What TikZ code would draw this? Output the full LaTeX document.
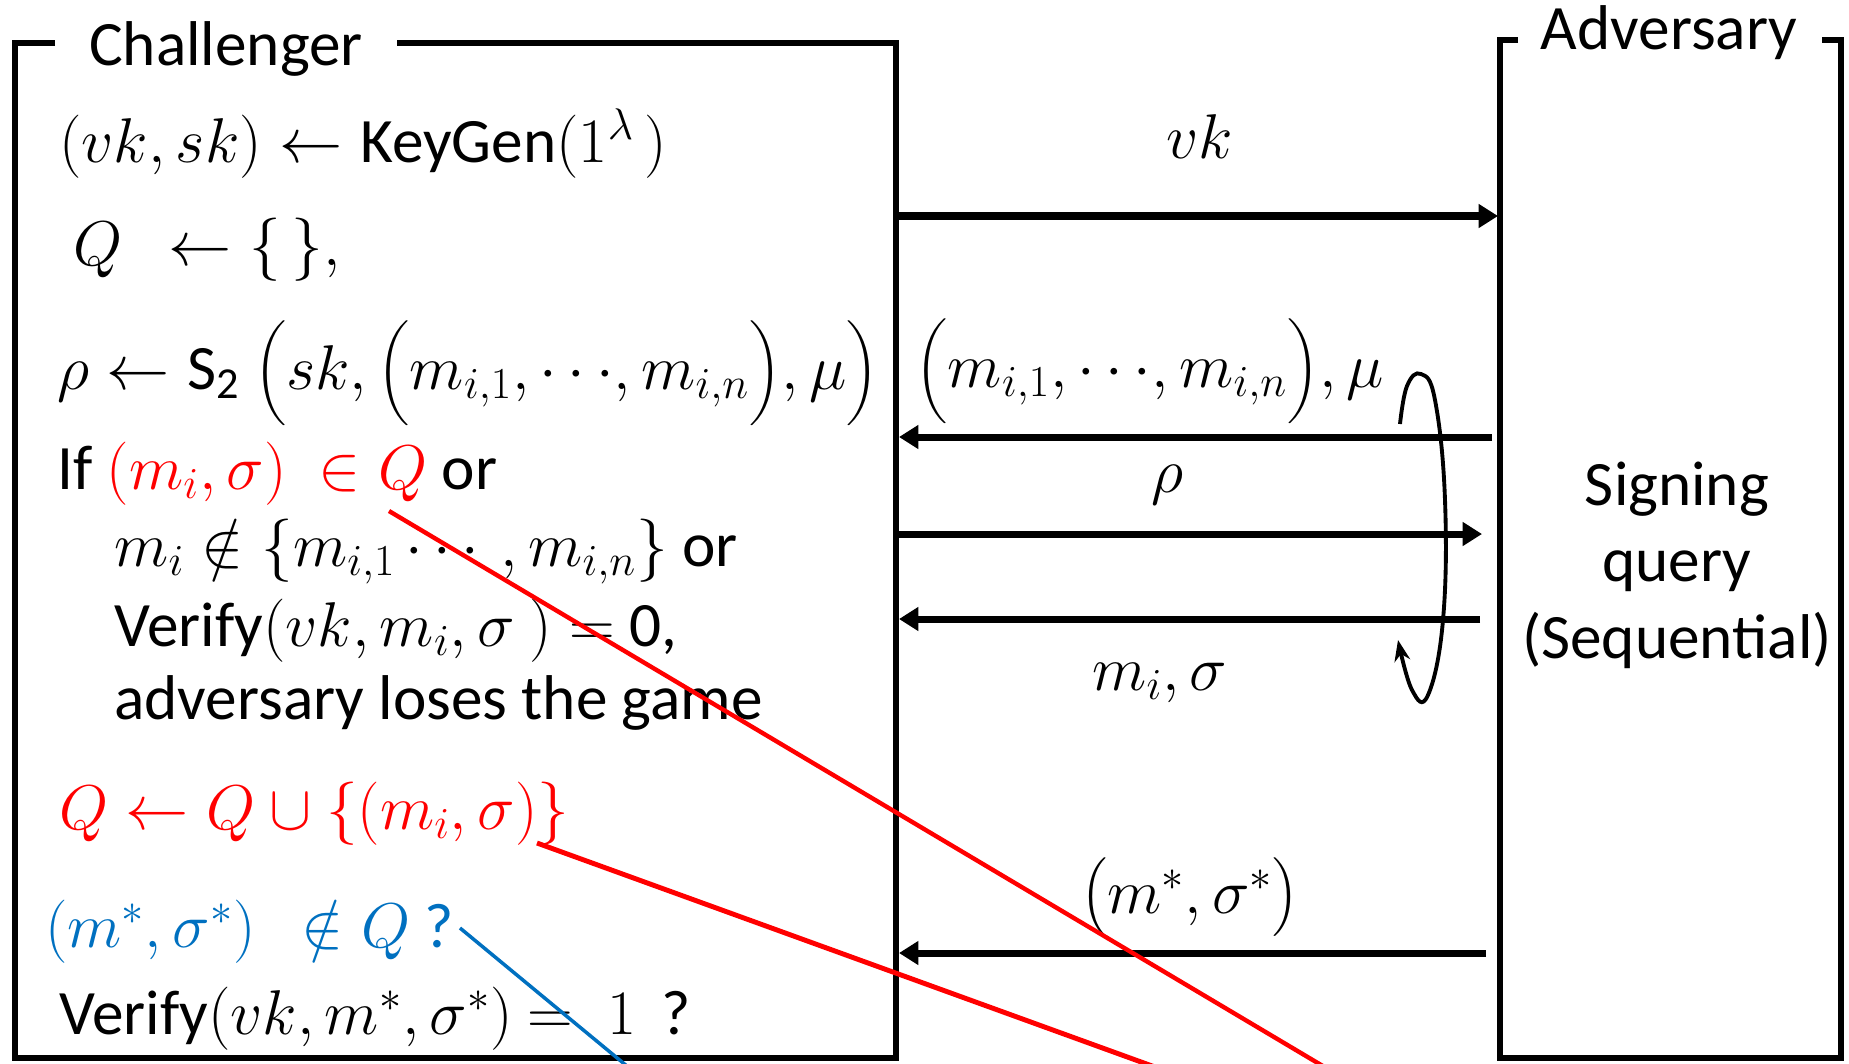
\RequirePackage{fix-cm}
\documentclass[tikz,border=0pt]{standalone}
\usepackage{amsmath}
\usepackage[no-math]{fontspec}
\setmainfont{Carlito}
\usetikzlibrary{arrows.meta}
\definecolor{qred}{RGB}{255,0,0}
\definecolor{qblue}{RGB}{0,112,192}
\begin{document}
\begin{tikzpicture}[x=0.02cm,y=-0.02cm,
  every node/.style={inner sep=0pt, font=\fontsize{36}{43}\selectfont},
  txt/.style={anchor=base west},
  lbl/.style={anchor=base},
  frame/.style={line width=3.4pt, line join=miter},
  msg/.style={line width=4pt, -{Triangle[length=11pt,width=13pt]}},
  cyc/.style={line width=2.2pt, -{Stealth[length=12pt,width=9pt]}},
  redln/.style={qred, line width=2.5pt},
  blueln/.style={qblue, line width=2pt}]
\useasboundingbox (0,0) rectangle (1849,1063);
\clip (0,0) rectangle (1849,1063);

% Challenger frame
\draw[frame] (55,43) -- (15,43) -- (15,1058) -- (896,1058) -- (896,43) -- (397,43);
\node[lbl] (chal) at (226,65) {Challenger};

% Adversary frame
\draw[frame] (1518,40) -- (1500,40) -- (1500,1058) -- (1841,1058) -- (1841,40) -- (1822,40);
\node[lbl] (adv) at (1669,49) {Adversary};

% Challenger text
\node[txt] (l1) at (59,162) {$(vk,sk)\leftarrow{}$KeyGen$(1^{\lambda}\,)$};
\node[txt] (l2) at (73,265) {$Q\ \ \leftarrow\{\,\},$};
\node[txt] (l3) at (57,389) {$\rho\leftarrow{}$S$_{\text{2}}$ $\Bigl(sk,\Bigl(m_{i,1},{\cdots},m_{i,n}\Bigr),\mu\Bigr)$};
\node[txt] (l4) at (57,489) {If {\color{qred}$(m_i,\sigma)\ \in Q$} or};
\node[txt] (l5) at (114,566) {$m_i\notin\{m_{i,1}\cdots,m_{i,n}\}$ or};
\node[txt] (l6) at (114,646) {Verify$(vk,m_i,\sigma\ )=$ 0,};
\node[txt] (l7) at (114,719) {adversary loses the game};
\node[txt, text=qred] (l8) at (59,829) {$Q\leftarrow Q\cup\{(m_i,\sigma)\}$};
\node[txt, text=qblue] (l9) at (45,947) {$(m^*,\sigma^*)\ \ \notin Q\ $?};
\node[txt] (l10) at (59,1034) {Verify$(vk,m^*,\sigma^*)$ $=\;1\,$ ?};

% Adversary text
\node[lbl] (s1) at (1677,505) {Signing};
\node[lbl] (s2) at (1677,581) {query};
\node[lbl] (s3) at (1677,658) {(Sequential)};

% Messages
\coordinate (c1) at (898,216);  \coordinate (a1) at (1498,216);
\coordinate (c2) at (899,437);  \coordinate (a2) at (1492,437);
\coordinate (c3) at (898,534);  \coordinate (a3) at (1482,534);
\coordinate (c4) at (899,619);  \coordinate (a4) at (1480,619);
\coordinate (c5) at (899,953);  \coordinate (a5) at (1486,953);
\draw[msg] (c1) -- (a1);
\draw[msg] (a2) -- (c2);
\draw[msg] (c3) -- (a3);
\draw[msg] (a4) -- (c4);
\draw[msg] (a5) -- (c5);
\node[lbl] (m1) at (1200,158) {$vk$};
\node[lbl] (m2) at (1150,387) {$\Bigl(m_{i,1},{\cdots},m_{i,n}\Bigr),\mu$};
\node[lbl] (m3) at (1167,492) {$\rho$};
\node[lbl] (m4) at (1160,690) {$m_i,\sigma$};
\node[lbl] (m5) at (1190,913) {$\bigl(m^*,\sigma^*\bigr)$};

% Loop
\draw[cyc] plot[smooth, tension=0.7] coordinates {(1400,424) (1407,386) (1421,374) (1435,400) (1445,500) (1443,620) (1428,695) (1412,690) (1398,640)};

% Red / blue pointers
\coordinate (r1s) at (389,511); \coordinate (r1e) at (1380,1100);
\coordinate (r2s) at (537,843); \coordinate (r2e) at (1246,1100);
\coordinate (b1s) at (460,928); \coordinate (b1e) at (668,1100);
\draw[redln] (r1s) -- (r1e);
\draw[redln, line width=2.8pt] (r2s) -- (r2e);
\draw[blueln] (b1s) -- (b1e);
\end{tikzpicture}
\end{document}
